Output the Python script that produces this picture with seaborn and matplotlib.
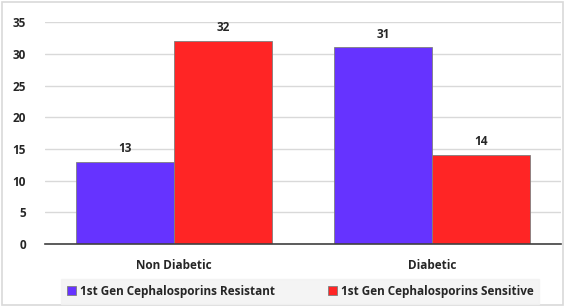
import pandas as pd
import matplotlib.pyplot as plt
import seaborn as sns
from matplotlib.patches import Rectangle

groups = ['Non Diabetic', 'Diabetic']
series = ['1st Gen Cephalosporins Resistant', '1st Gen Cephalosporins Sensitive']
resistant = [13, 31]
sensitive = [32, 14]
colors = ['#6633FF', '#FF2525']

df = pd.DataFrame({
    'group': groups * 2,
    'series': [series[0]] * 2 + [series[1]] * 2,
    'value': resistant + sensitive,
})

sns.set_style('white')
plt.rcParams['font.family'] = ['Open Sans', 'DejaVu Sans']
plt.rcParams['font.weight'] = 'bold'

fig = plt.figure(figsize=(5.66, 3.07), dpi=100)
ax = fig.add_axes([0.080, 0.205, 0.911, 0.723])

sns.barplot(data=df, x='group', y='value', hue='series', palette=colors,
            saturation=1, width=0.76, edgecolor='#7f7f7f', linewidth=0.6, ax=ax)

for cont in ax.containers:
    ax.bar_label(cont, padding=5, fontsize=8.5, fontweight='bold', color='#262626')

ax.set_ylim(0, 35)
ax.set_xlim(-0.5, 1.5)
ax.set_yticks(range(0, 36, 5))
ax.yaxis.grid(True, color='#d9d9d9', linewidth=1)
ax.set_axisbelow(True)
ax.set_xlabel('')
ax.set_ylabel('')
for s in ['top', 'right', 'left']:
    ax.spines[s].set_visible(False)
ax.spines['bottom'].set_color('#404040')
ax.spines['bottom'].set_linewidth(1.2)
ax.tick_params(axis='both', length=0, labelsize=8.5, colors='#262626')
ax.tick_params(axis='x', pad=11)
ax.tick_params(axis='y', pad=14)
for t in ax.get_xticklabels() + ax.get_yticklabels():
    t.set_fontweight('bold')

ax.get_legend().remove()
handles, labels = ax.get_legend_handles_labels()
leg = fig.legend(handles, labels, loc='lower center', bbox_to_anchor=(0.53, 0.01),
                 ncol=2, frameon=True, fancybox=False, facecolor='#f2f2f2',
                 edgecolor='#f2f2f2', fontsize=8.5, handlelength=0.8,
                 handleheight=0.8, handletextpad=0.3, columnspacing=4.5,
                 borderpad=0.5, borderaxespad=0)
for t in leg.get_texts():
    t.set_fontweight('bold')
    t.set_color('#262626')

fig.patches.append(Rectangle((0.004, 0.006), 0.99, 0.986, transform=fig.transFigure,
                             fill=False, edgecolor='#d9d9d9', linewidth=1.2))

fig.savefig('out.png', dpi=100)
